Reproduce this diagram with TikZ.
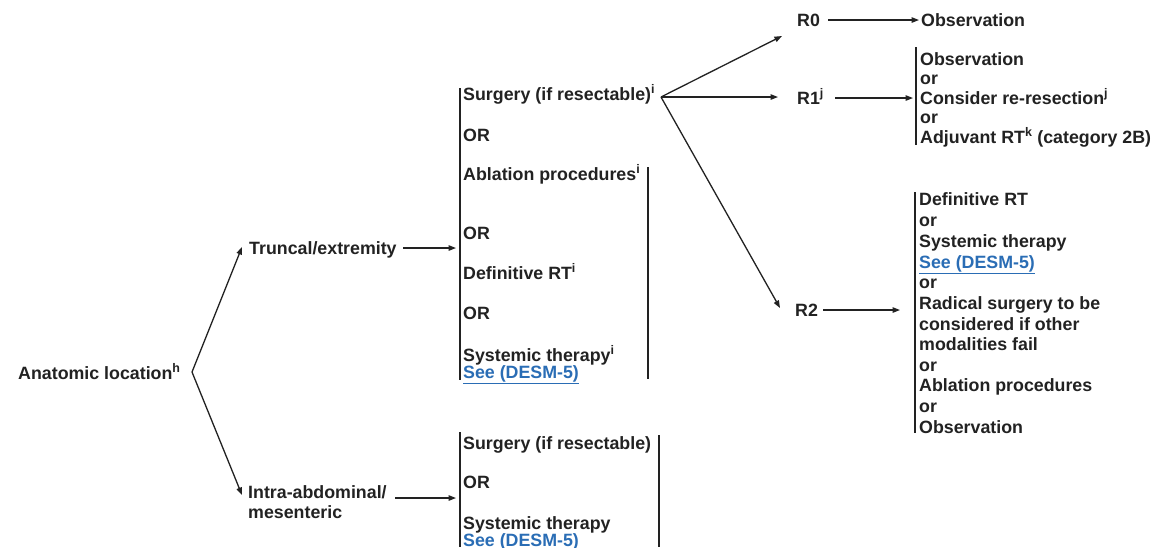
\documentclass[tikz,border=0pt]{standalone}
\usepackage{fontspec}
\setmainfont{Liberation Sans}
\usetikzlibrary{arrows.meta}
\definecolor{linkblue}{HTML}{2A6DB5}
\definecolor{ink}{HTML}{222222}
\tikzset{
  txt/.style={anchor=base west, inner sep=0pt, text=ink, font=\fontsize{17.8}{20}\selectfont\bfseries},
  link/.style={txt, text=linkblue},
  arr/.style={draw=ink, line width=1.3pt, -{Triangle[length=7.5pt,width=5.5pt]}},
  bar/.style={draw=ink, line width=1.3pt}
}
\newcommand{\lnk}[1]{\underline{#1}}
\begin{document}
\begin{tikzpicture}[x=1pt,y=-1pt]
\useasboundingbox (0,0) rectangle (1160,547);
\fill[white] (0,0) rectangle (1160,547);

% left column
\node[txt] (anat) at (18,379) {Anatomic location\textsuperscript{h}};
\node[txt] (trunc) at (249,254) {Truncal/extremity};
\node[txt] (intra1) at (248,498) {Intra-abdominal/};
\node[txt] (intra2) at (248,518) {mesenteric};

\coordinate (fa) at (192,372);
\coordinate (ta) at (242,247);
\coordinate (ia) at (242,495);
\draw[arr] (fa) -- (ta);
\draw[arr] (fa) -- (ia);

% top middle box
\coordinate (tbin) at (456,248);
\coordinate (tbout) at (403,248);
\draw[arr] (tbout) -- (tbin);
\coordinate (tl1) at (460,88);
\coordinate (tl2) at (460,380);
\draw[bar] (tl1) -- (tl2);
\coordinate (tr1) at (648,167);
\coordinate (tr2) at (648,379);
\draw[bar] (tr1) -- (tr2);
\node[txt] (s1) at (463,100) {Surgery (if resectable)\textsuperscript{i}};
\node[txt] (or1) at (463,141) {OR};
\node[txt] (ab1) at (463,180) {Ablation procedures\textsuperscript{i}};
\node[txt] (or2) at (463,239) {OR};
\node[txt] (dr1) at (463,279) {Definitive RT\textsuperscript{i}};
\node[txt] (or3) at (463,319) {OR};
\node[txt] (sy1) at (463,361) {Systemic therapy\textsuperscript{i}};
\node[link] (see1) at (463,378) {\lnk{See (DESM-5)}};

% bottom middle box
\coordinate (ibout) at (395,498);
\coordinate (ibin) at (456,498);
\draw[arr] (ibout) -- (ibin);
\coordinate (bl1) at (460,432);
\coordinate (bl2) at (460,547);
\draw[bar] (bl1) -- (bl2);
\coordinate (br1) at (659,435);
\coordinate (br2) at (659,547);
\draw[bar] (br1) -- (br2);
\node[txt] (s2) at (463,449) {Surgery (if resectable)};
\node[txt] (or4) at (463,488) {OR};
\node[txt] (sy2) at (463,529) {Systemic therapy};
\node[link] (see2) at (463,546) {\lnk{See (DESM-5)}};

% fan from surgery
\coordinate (fs) at (661,97);
\coordinate (r0t) at (782,36);
\coordinate (r1t) at (778,97);
\coordinate (r2t) at (780,308);
\draw[arr] (fs) -- (r0t);
\draw[arr] (fs) -- (r1t);
\draw[arr] (fs) -- (r2t);

\node[txt] (r0) at (797,26) {R0};
\node[txt] (r1) at (797,104) {R1\textsuperscript{j}};
\node[txt] (r2) at (795,316) {R2};

% R0
\coordinate (r0a) at (828,20);
\coordinate (r0b) at (919,20);
\draw[arr] (r0a) -- (r0b);
\node[txt] (obs0) at (921,26) {Observation};

% R1
\coordinate (r1a) at (835,98);
\coordinate (r1b) at (913,98);
\draw[arr] (r1a) -- (r1b);
\coordinate (r1l1) at (916,47);
\coordinate (r1l2) at (916,145);
\draw[bar] (r1l1) -- (r1l2);
\node[txt] (r1o) at (920,65) {Observation};
\node[txt] (r1or1) at (920,84) {or};
\node[txt] (r1c) at (920,104) {Consider re-resection\textsuperscript{j}};
\node[txt] (r1or2) at (920,123) {or};
\node[txt] (r1a2) at (920,143) {Adjuvant RT\textsuperscript{k} (category 2B)};

% R2
\coordinate (r2a) at (823,310);
\coordinate (r2b) at (900,310);
\draw[arr] (r2a) -- (r2b);
\coordinate (r2l1) at (915,192);
\coordinate (r2l2) at (915,433);
\draw[bar] (r2l1) -- (r2l2);
\node[txt] (q1) at (919,205) {Definitive RT};
\node[txt] (q2) at (919,226) {or};
\node[txt] (q3) at (919,247) {Systemic therapy};
\node[link] (q4) at (919,268) {\lnk{See (DESM-5)}};
\node[txt] (q5) at (919,288) {or};
\node[txt] (q6) at (919,309) {Radical surgery to be};
\node[txt] (q7) at (919,330) {considered if other};
\node[txt] (q8) at (919,350) {modalities fail};
\node[txt] (q9) at (919,371) {or};
\node[txt] (q10) at (919,391) {Ablation procedures};
\node[txt] (q11) at (919,412) {or};
\node[txt] (q12) at (919,433) {Observation};
\end{tikzpicture}
\end{document}
